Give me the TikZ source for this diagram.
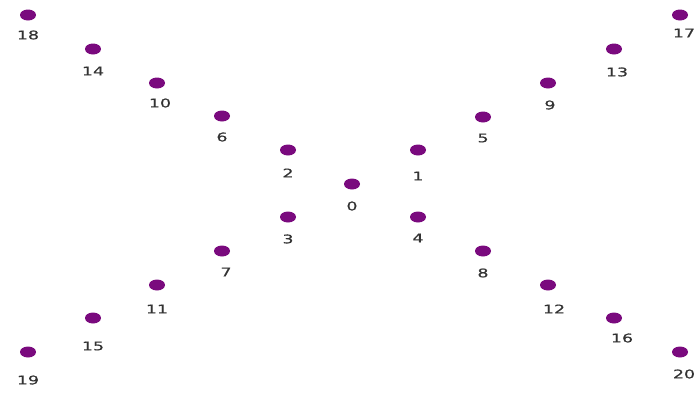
\documentclass[tikz,border=0pt]{standalone}
\usepackage{fontspec}
\setmainfont{DejaVu Sans}[FakeStretch=1.45,FakeBold=0.6]
\definecolor{dotpurple}{HTML}{7A0A7E}
\definecolor{labgray}{HTML}{333333}
\begin{document}
\begin{tikzpicture}[x=1pt,y=-1pt,
  dotnode/.style={ellipse,fill=dotpurple,minimum width=16pt,minimum height=11pt,inner sep=0pt},
  labnode/.style={text=labgray,font=\fontsize{12}{12}\selectfont,inner sep=0pt}]
\usetikzlibrary{shapes.geometric}
\useasboundingbox (0,0) rectangle (698,392);
\foreach \n/\x/\y/\lx/\ly in {
 0/352/184/352/206, 1/418/150/418/176, 2/288/150/288/173, 3/288/217/288/239,
 4/418/217/418/238, 5/483/117/483/138, 6/222/116/222/137, 7/222/251/226/272,
 8/483/251/483/273, 9/548/83/550/105, 10/157/83/160/103, 11/157/285/157/309,
 12/548/285/554/309, 13/614/49/617/72, 14/93/49/93/71, 15/93/318/93/346,
 16/614/318/622/338, 17/680/15/684/33, 18/28/15/28/35, 19/28/352/28/380,
 20/680/352/684/374}{
  \node[dotnode] (d\n) at (\x,\y) {};
  \node[labnode] (l\n) at (\lx,\ly) {\n};
}
\end{tikzpicture}
\end{document}
